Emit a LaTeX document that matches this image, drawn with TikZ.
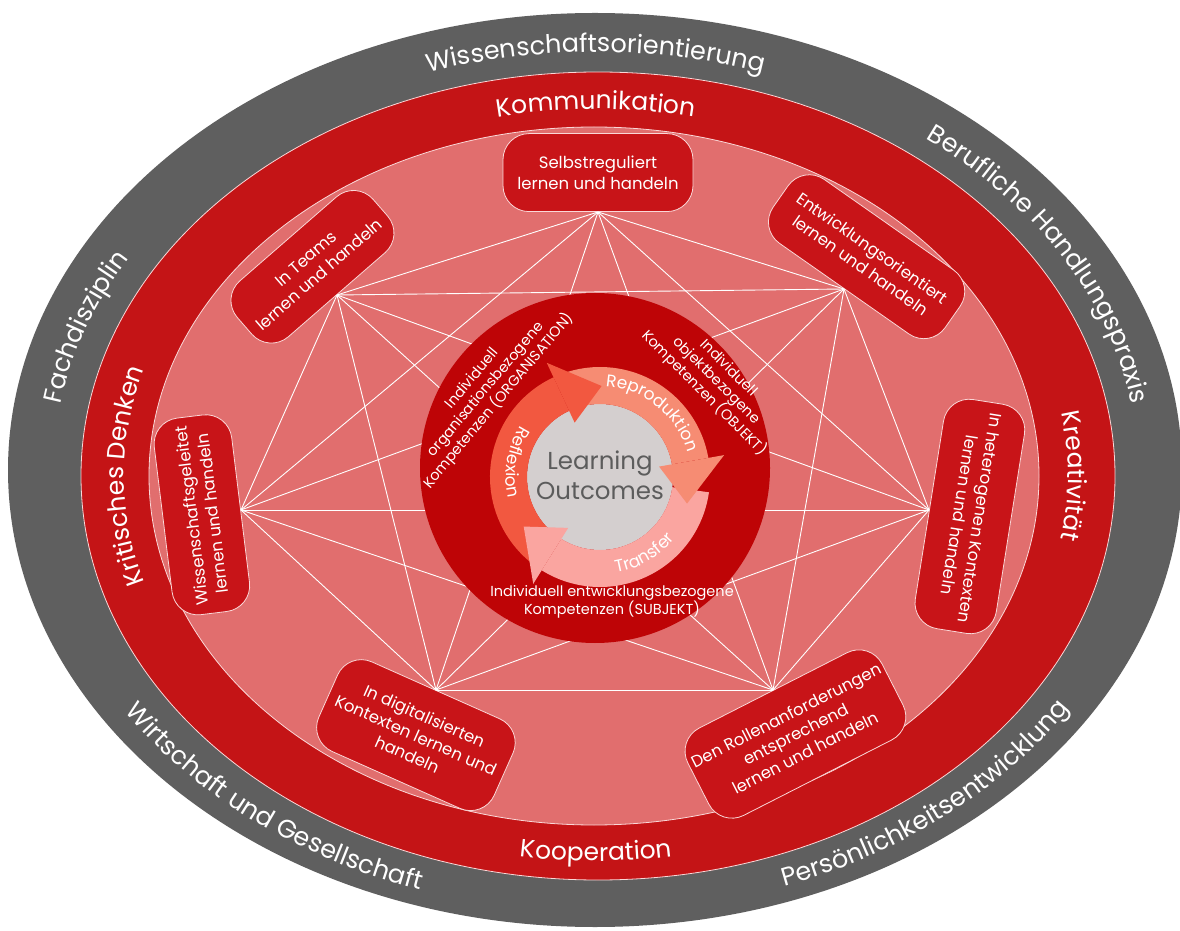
\documentclass[tikz,border=0pt]{standalone}
\usepackage{fontspec}
\setmainfont{Poppins}
\usetikzlibrary{decorations.text}

\definecolor{bandgrey}{RGB}{95,95,95}
\definecolor{bandred}{RGB}{196,20,22}
\definecolor{fieldpink}{RGB}{225,110,110}
\definecolor{corered}{RGB}{190,4,6}
\definecolor{boxred}{RGB}{200,20,24}
\definecolor{boxline}{RGB}{250,215,215}
\definecolor{hubgrey}{RGB}{212,207,207}
\definecolor{hubtext}{RGB}{92,92,92}
\definecolor{reflexcol}{RGB}{242,88,64}
\definecolor{reprocol}{RGB}{246,140,115}
\definecolor{transcol}{RGB}{250,165,160}

\tikzset{
  competence/.style={draw=boxline, line width=0.8pt, fill=boxred, rounded corners=26pt,
    text=white, align=center, inner sep=3pt, font=\fontsize{16.5}{21}\selectfont},
  web/.style={draw=white, line width=0.9pt},
  bandtext/.style 2 args={decorate, decoration={text along path, text align=center,
    text={|\color{white}\fontsize{#1}{#1}\selectfont|#2}}},
  corelabel/.style={text=white, align=center, font=\fontsize{14.5}{17.5}\selectfont},
}

\begin{document}
\begin{tikzpicture}[x=1pt, y=1pt]
\useasboundingbox (0,0) rectangle (1180,930);

% rings
\fill[bandgrey] (595,460) ellipse[x radius=587, y radius=457];
\filldraw[fill=bandred, draw=boxline, line width=0.8pt] (598,454) ellipse[x radius=517, y radius=404];
\filldraw[fill=fieldpink, draw=boxline, line width=0.8pt] (594,454) ellipse[x radius=445, y radius=349];

% ring labels
\begin{scope}[shift={(596,457)}]
  \path[bandtext={25.5}{Wissenschaftsorientierung}] (125:543 and 421) arc[start angle=125, end angle=55, x radius=543, y radius=421];
  \path[bandtext={25.5}{Berufliche Handlungspraxis}] (62:543 and 421) arc[start angle=62, end angle=-2, x radius=543, y radius=421];
  \path[bandtext={25.5}{Persönlichkeitsentwicklung}] (-84:561 and 439) arc[start angle=-84, end angle=-16, x radius=561, y radius=439];
  \path[bandtext={25.5}{Wirtschaft und Gesellschaft}] (197:561 and 439) arc[start angle=197, end angle=265, x radius=561, y radius=439];
  \path[bandtext={25.5}{Fachdisziplin}] (190:543 and 421) arc[start angle=190, end angle=132, x radius=543, y radius=421];
\end{scope}
\begin{scope}[shift={(596,454)}]
  \path[bandtext={25}{Kommunikation}] (120:472 and 367) arc[start angle=120, end angle=60, x radius=472, y radius=367];
  \path[bandtext={25}{Kreativität}] (30:472 and 367) arc[start angle=30, end angle=-30, x radius=472, y radius=367];
  \path[bandtext={25}{Kooperation}] (-120:490 and 385) arc[start angle=-120, end angle=-60, x radius=490, y radius=385];
  \path[bandtext={25}{Kritisches Denken}] (212:472 and 367) arc[start angle=212, end angle=148, x radius=472, y radius=367];
\end{scope}

% competence boxes
\node[competence, minimum width=190pt, minimum height=78pt, anchor=south] (selbst) at (598,718) {Selbstreguliert\\lernen und handeln};
\node[competence, rotate=41, minimum width=180pt, minimum height=74pt, anchor=south] (teams) at (337,635) {In Teams\\lernen und handeln};
\node[competence, rotate=-35, minimum width=210pt, minimum height=78pt, anchor=south] (entw) at (844,641) {Entwicklungsorientiert\\lernen und handeln};
\node[competence, rotate=-99, minimum width=232pt, minimum height=82pt, anchor=south] (hetero) at (929,420) {In heterogenen Kontexten\\lernen und handeln};
\node[competence, rotate=27, minimum width=218pt, minimum height=98pt, anchor=north] (rollen) at (773,240) {Den Rollenanforderungen\\entsprechend\\lernen und handeln};
\node[competence, rotate=-24, minimum width=192pt, minimum height=98pt, anchor=north] (digital) at (436,240) {In digitalisierten\\Kontexten lernen und\\handeln};
\node[competence, rotate=97, minimum width=198pt, minimum height=78pt, anchor=south] (wiss) at (241,420) {Wissenschaftsgeleitet\\lernen und handeln};

% web between all boxes
\coordinate (v1) at (selbst.south);
\coordinate (v2) at (entw.south);
\coordinate (v3) at (hetero.south);
\coordinate (v4) at (rollen.north);
\coordinate (v5) at (digital.north);
\coordinate (v6) at (wiss.south);
\coordinate (v7) at (teams.south);
\foreach \i in {1,...,6}{
  \pgfmathtruncatemacro\k{\i+1}
  \foreach \j in {\k,...,7}
    \draw[web] (v\i) -- (v\j);
}

% core
\fill[corered] (595,462) circle[radius=175];
\node[corelabel, rotate=50] (orga) at (486,540) {Individuell\\organisationsbezogene\\Kompetenzen (ORGANISATION)};
\node[corelabel, rotate=-45] (objekt) at (716,549) {Individuell\\objektbezogene\\Kompetenzen (OBJEKT)};
\node[corelabel] (subjekt) at (612,328) {Individuell entwicklungsbezogene\\Kompetenzen (SUBJEKT)};

% cycle
\begin{scope}[shift={(600,453)}]
  \fill[hubgrey] (0,0) circle[radius=73];
  \fill[transcol] (-8:73) arc[start angle=-8, end angle=-122, radius=73] -- (-122:110) arc[start angle=-122, end angle=-8, radius=110] -- cycle;
  \fill[reprocol] (112:73) arc[start angle=112, end angle=10, radius=73] -- (10:110) arc[start angle=10, end angle=112, radius=110] -- cycle;
  \fill[reflexcol] (232:73) arc[start angle=232, end angle=115, radius=73] -- (115:110) arc[start angle=115, end angle=232, radius=110] -- cycle;
  \fill[transcol] (-122:60) -- (-122:126) -- (-147:91) -- cycle;
  \fill[reprocol] (10:60) -- (10:126) -- (-17:91) -- cycle;
  \fill[reflexcol] (115:60) -- (115:126) -- (89:91) -- cycle;
  \path[bandtext={17}{Reflexion}] (135:94) arc[start angle=135, end angle=205, radius=94];
  \path[bandtext={17}{Reproduktion}] (100:91) arc[start angle=100, end angle=2, radius=91];
  \path[bandtext={17}{Transfer}] (-100:97) arc[start angle=-100, end angle=-20, radius=97];
\end{scope}
\node[text=hubtext, align=center, font=\fontsize{24.5}{30}\selectfont] (outcome) at (600,455) {Learning\\Outcomes};
\end{tikzpicture}
\end{document}
